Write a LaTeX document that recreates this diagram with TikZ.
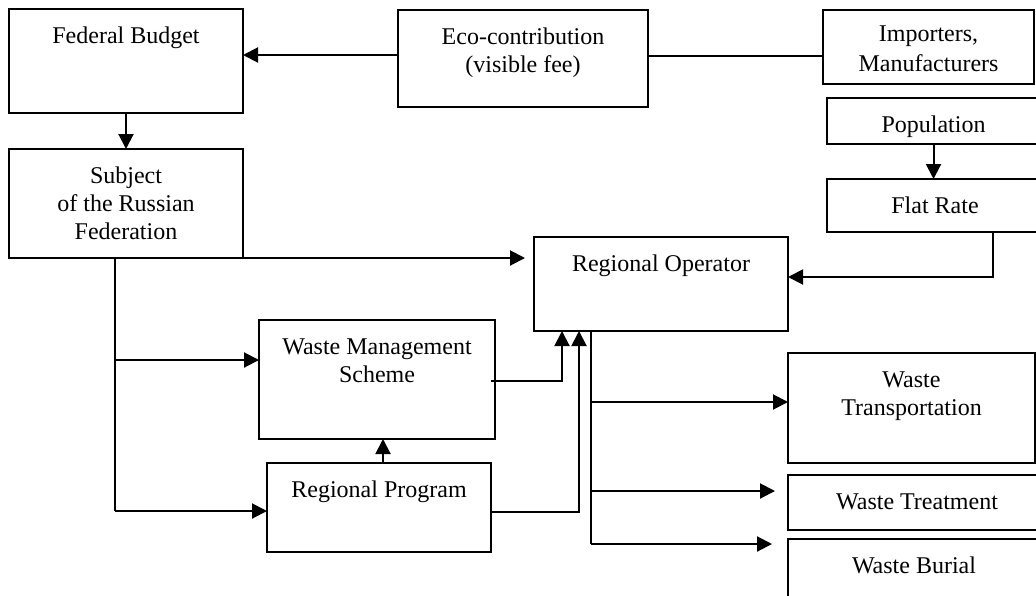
\documentclass[tikz,border=0pt]{standalone}
\usepackage{fontspec}
\setmainfont{Liberation Serif}
\usetikzlibrary{arrows.meta,calc}
\tikzset{
  box/.style={draw=black, line width=0.6pt, rectangle, inner sep=0pt, outer sep=0pt},
  txt/.style={anchor=north, inner sep=0pt, align=center, yshift=-7pt,
              font=\fontsize{12}{14}\selectfont},
  conn/.style={draw=black, line width=1pt},
  arr/.style={conn, -{Triangle[length=7.5pt,width=7.5pt]}},
}
\newcommand\mybox[6]{%
  \node[box, minimum width={(#4-#2)*0.5pt}, minimum height={(#5-#3)*0.5pt}]
    (#1) at ({(#2+#4)/2},{(#3+#5)/2}) {};
  \node[txt] (#1-t) at (#1.north) {\rule{0pt}{10pt}#6};}
\begin{document}
\begin{tikzpicture}[x=0.5pt,y=-0.5pt]
\clip (0,0) rectangle (1036,595);
\fill[white] (0,0) rectangle (1036,595);
\mybox{fb}{9}{9}{243}{113}{Federal Budget}
\mybox{eco}{398}{10}{648}{107}{Eco-contribution\\(visible fee)}
\node[box, minimum width=105.5pt, minimum height=37pt] (imp) at (928.5,47) {};
\node[txt, yshift=1.5pt, font=\fontsize{12}{15}\selectfont] (imp-t) at (imp.north) {\rule{0pt}{10pt}Importers,\\Manufacturers};
\mybox{pop}{827}{98}{1040}{144}{Population}
\mybox{fr}{827}{179}{1043}{232}{Flat Rate}
\mybox{subj}{9}{149}{243}{258}{Subject\\of the Russian\\Federation}
\mybox{ro}{534}{237}{788}{331}{Regional Operator}
\mybox{wms}{259}{320}{495}{439}{Waste Management\\Scheme}
\mybox{rp}{267}{463}{491}{552}{Regional Program}
\mybox{wt}{788}{353}{1035}{463}{Waste\\Transportation}
\mybox{wtr}{788}{475}{1046}{530}{Waste Treatment}
\mybox{wb}{788}{539}{1040}{600}{Waste Burial}
% helper coordinates
\coordinate (y55) at (0,55);
\coordinate (y56) at (0,56);
\coordinate (frx) at (993,277);
\coordinate (sv) at (115,258);
\coordinate (sv1) at (115,360);
\coordinate (sv2) at (115,511);
\coordinate (rpx) at (383,0);
\coordinate (wmsx) at (562,381);
\coordinate (rpy) at (579,512);
\coordinate (rob) at (591,331);
\coordinate (b1) at (591,402);
\coordinate (b2) at (591,491);
\coordinate (b3) at (591,544);
% connectors
\draw[conn] (imp.west |- y56) -- (eco.east |- y56);
\draw[arr] (eco.west |- y55) -- (fb.east |- y55);
\draw[arr] (fb.south) -- (subj.north);
\draw[arr] (pop.south) -- (pop.south |- fr.north);
\draw[arr] (frx |- fr.south) -- (frx) -- (frx -| ro.east);
\draw[arr, shorten >=4.5pt] (subj.south east) -- (subj.south east -| ro.west);
\draw[conn] (sv) -- (sv2);
\draw[arr] (sv1) -- (sv1 -| wms.west);
\draw[arr] (sv2) -- (sv2 -| rp.west);
\draw[arr] (rp.north -| rpx) -- (wms.south -| rpx);
\draw[arr] ([xshift=-2pt]wms.east |- wmsx) -- (wmsx) -- (wmsx |- ro.south);
\draw[arr] (rp.east |- rpy) -- (rpy) -- (rpy |- ro.south);
\draw[conn] (rob) -- (b3);
\draw[arr] (b1) -- (b1 -| wt.west);
\draw[arr, shorten >=6.5pt] (b2) -- (b2 -| wtr.west);
\draw[arr, shorten >=8pt] (b3) -- (b3 -| wb.west);
\end{tikzpicture}
\end{document}
